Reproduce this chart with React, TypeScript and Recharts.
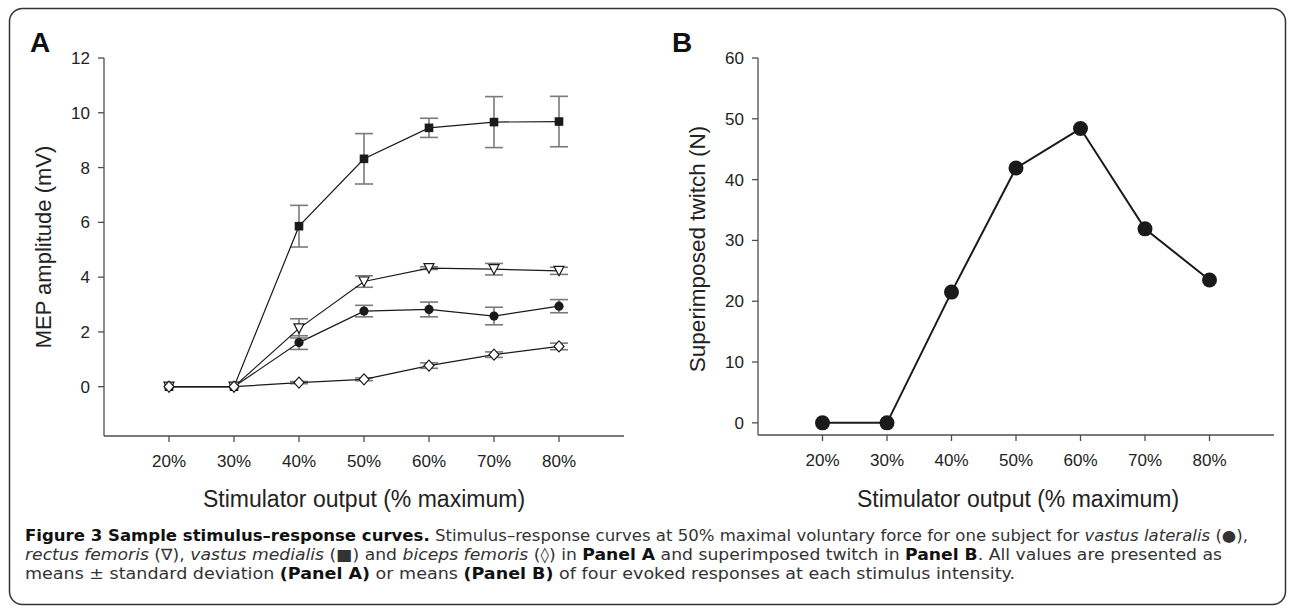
import React from 'react';
import { LineChart, Line, XAxis, YAxis, ErrorBar } from 'recharts';

// stimulator output levels (% maximum)
const levels = [20, 30, 40, 50, 60, 70, 80];

// Panel A - MEP amplitude (mV), mean and SD
const vastusLateralis = [0, 0, 1.61, 2.76, 2.82, 2.58, 2.94];
const vastusLateralisSd = [0, 0, 0.25, 0.21, 0.27, 0.32, 0.24];
const rectusFemoris = [0, 0, 2.13, 3.84, 4.33, 4.29, 4.23];
const rectusFemorisSd = [0, 0, 0.35, 0.21, 0.05, 0.21, 0.13];
const vastusMedialis = [0, 0, 5.86, 8.32, 9.45, 9.66, 9.68];
const vastusMedialisSd = [0, 0, 0.76, 0.92, 0.35, 0.93, 0.92];
const bicepsFemoris = [0, 0, 0.15, 0.27, 0.77, 1.17, 1.47];
const bicepsFemorisSd = [0, 0, 0.04, 0.05, 0.1, 0.1, 0.12];

// Panel B - superimposed twitch (N)
const twitch = [0, 0, 21.5, 41.9, 48.4, 31.9, 23.5];

const ticksA = [0, 2, 4, 6, 8, 10, 12];
const ticksB = [0, 10, 20, 30, 40, 50, 60];

const dataA = levels.map((x, i) => ({
    x,
    vl: vastusLateralis[i],
    vlSd: vastusLateralisSd[i],
    rf: rectusFemoris[i],
    rfSd: rectusFemorisSd[i],
    vm: vastusMedialis[i],
    vmSd: vastusMedialisSd[i],
    bf: bicepsFemoris[i],
    bfSd: bicepsFemorisSd[i],
}));

const dataB = levels.map((x, i) => ({ x, twitch: twitch[i] }));

const FONT = '"Liberation Sans", Arial, sans-serif';
const INK = '#1a1a1a';
const AXIS = '#4d4d4d';
const ERR = '#7a7a7a';

const tickStyle = { fill: '#222', fontSize: 17, fontFamily: FONT };

const squareDot = (p: any) => (
    <rect key={`sq${p.index}`} x={p.cx - 4.3} y={p.cy - 4.3} width={8.6} height={8.6} fill={INK} />
);
const circleDot = (p: any) => <circle key={`ci${p.index}`} cx={p.cx} cy={p.cy} r={4.6} fill={INK} />;
const triangleDot = (p: any) => (
    <polygon
        key={`tr${p.index}`}
        points={`${p.cx - 5},${p.cy - 4.5} ${p.cx + 5},${p.cy - 4.5} ${p.cx},${p.cy + 5}`}
        fill="#fff"
        stroke={INK}
        strokeWidth={1.2}
    />
);
const diamondDot = (p: any) => (
    <polygon
        key={`di${p.index}`}
        points={`${p.cx},${p.cy - 5.5} ${p.cx + 5},${p.cy} ${p.cx},${p.cy + 5.5} ${p.cx - 5},${p.cy}`}
        fill="#fff"
        stroke={INK}
        strokeWidth={1.2}
    />
);
const bigDot = (p: any) => <circle key={`bd${p.index}`} cx={p.cx} cy={p.cy} r={7.5} fill={INK} />;

function xAxisFor() {
    return (
        <XAxis
            dataKey="x"
            type="number"
            domain={[10, 90]}
            ticks={levels}
            tickFormatter={(v) => `${v}%`}
            tick={tickStyle}
            tickSize={6}
            tickMargin={13}
            height={40}
            stroke={AXIS}
            strokeWidth={1.3}
            interval={0}
        />
    );
}

function PanelA() {
    return (
        <LineChart width={660} height={520} data={dataA} margin={{ top: 58, right: 36, bottom: 44, left: 44 }}>
            {xAxisFor()}
            <YAxis
                type="number"
                domain={[-1.8, 12]}
                ticks={ticksA}
                tick={tickStyle}
                tickSize={6}
                tickMargin={8}
                width={60}
                stroke={AXIS}
                strokeWidth={1.3}
                interval={0}
            />
            <Line dataKey="vm" stroke={INK} strokeWidth={1.2} dot={squareDot} activeDot={false} isAnimationActive={false}>
                <ErrorBar dataKey="vmSd" width={9} stroke={ERR} strokeWidth={1.6} direction="y" />
            </Line>
            <Line dataKey="vl" stroke={INK} strokeWidth={1.2} dot={circleDot} activeDot={false} isAnimationActive={false}>
                <ErrorBar dataKey="vlSd" width={9} stroke={ERR} strokeWidth={1.6} direction="y" />
            </Line>
            <Line dataKey="rf" stroke={INK} strokeWidth={1.2} dot={triangleDot} activeDot={false} isAnimationActive={false}>
                <ErrorBar dataKey="rfSd" width={9} stroke={ERR} strokeWidth={1.6} direction="y" />
            </Line>
            <Line dataKey="bf" stroke={INK} strokeWidth={1.2} dot={diamondDot} activeDot={false} isAnimationActive={false}>
                <ErrorBar dataKey="bfSd" width={9} stroke={ERR} strokeWidth={1.6} direction="y" />
            </Line>
        </LineChart>
    );
}

function PanelB() {
    return (
        <LineChart width={630} height={520} data={dataB} margin={{ top: 58, right: 16, bottom: 45, left: 38 }}>
            {xAxisFor()}
            <YAxis
                type="number"
                domain={[-2, 60]}
                ticks={ticksB}
                tick={tickStyle}
                tickSize={6}
                tickMargin={8}
                width={60}
                stroke={AXIS}
                strokeWidth={1.3}
                interval={0}
            />
            <Line dataKey="twitch" stroke={INK} strokeWidth={2} dot={bigDot} activeDot={false} isAnimationActive={false} />
        </LineChart>
    );
}

export default function App() {
    const capText = { fontFamily: '"DejaVu Sans", sans-serif', fontSize: 15.5, fill: '#333' };
    return (
        <div style={{ position: 'absolute', left: 0, top: 0, width: 1290, height: 606, background: '#fff', overflow: 'hidden' }}>
            <div style={{ position: 'absolute', left: 0, top: 0 }}>
                <PanelA />
            </div>
            <div style={{ position: 'absolute', left: 660, top: 0 }}>
                <PanelB />
            </div>
            <svg width={1290} height={606} style={{ position: 'absolute', left: 0, top: 0, pointerEvents: 'none' }}>
                <rect x={9.5} y={8.5} width={1276} height={596} rx={13} fill="none" stroke="#333" strokeWidth={1.5} />
                <text x={30} y={52} fontFamily={FONT} fontSize={28} fontWeight="bold" fill="#111">A</text>
                <text x={672} y={52} fontFamily={FONT} fontSize={28} fontWeight="bold" fill="#111">B</text>
                <text x={364} y={507} textAnchor="middle" fontFamily={FONT} fontSize={23} fill="#222">
                    Stimulator output (% maximum)
                </text>
                <text x={1018} y={507} textAnchor="middle" fontFamily={FONT} fontSize={23} fill="#222">
                    Stimulator output (% maximum)
                </text>
                <text transform="translate(51,247) rotate(-90)" textAnchor="middle" fontFamily={FONT} fontSize={22} fill="#222">
                    MEP amplitude (mV)
                </text>
                <text transform="translate(705,249) rotate(-90)" textAnchor="middle" fontFamily={FONT} fontSize={22.5} fill="#222">
                    Superimposed twitch (N)
                </text>
                <text x={25} y={541} textLength={1223} lengthAdjust="spacingAndGlyphs" style={capText}>
                    <tspan fontWeight="bold" fill="#111">Figure 3 Sample stimulus–response curves.</tspan>
                    <tspan> Stimulus–response curves at 50% maximal voluntary force for one subject for </tspan>
                    <tspan fontStyle="italic">vastus lateralis</tspan>
                    <tspan> (●),</tspan>
                </text>
                <text x={25} y={560} textLength={1197} lengthAdjust="spacingAndGlyphs" style={capText}>
                    <tspan fontStyle="italic">rectus femoris</tspan>
                    <tspan> (∇), </tspan>
                    <tspan fontStyle="italic">vastus medialis</tspan>
                    <tspan> (■) and </tspan>
                    <tspan fontStyle="italic">biceps femoris</tspan>
                    <tspan> (◊) in </tspan>
                    <tspan fontWeight="bold" fill="#111">Panel A</tspan>
                    <tspan> and superimposed twitch in </tspan>
                    <tspan fontWeight="bold" fill="#111">Panel B</tspan>
                    <tspan>. All values are presented as</tspan>
                </text>
                <text x={25} y={579} textLength={990} lengthAdjust="spacingAndGlyphs" style={capText}>
                    <tspan>means ± standard deviation </tspan>
                    <tspan fontWeight="bold" fill="#111">(Panel A)</tspan>
                    <tspan> or means </tspan>
                    <tspan fontWeight="bold" fill="#111">(Panel B)</tspan>
                    <tspan> of four evoked responses at each stimulus intensity.</tspan>
                </text>
            </svg>
        </div>
    );
}
